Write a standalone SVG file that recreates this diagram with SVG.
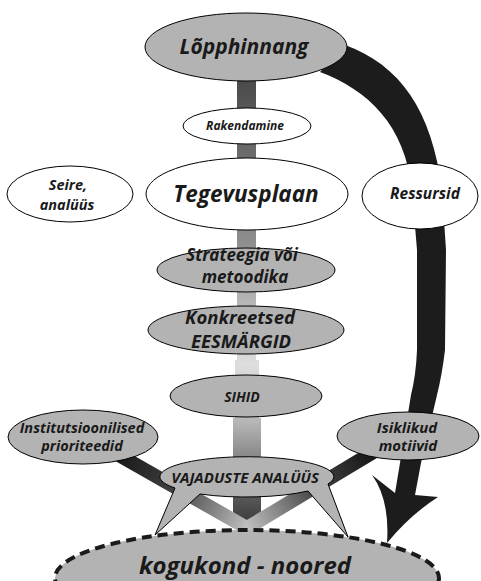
<svg xmlns="http://www.w3.org/2000/svg" width="481" height="581" viewBox="0 0 481 581">
<style>
.t{font-family:"Open Sans","Liberation Sans",sans-serif;font-weight:bold;font-style:italic;fill:#1a1a1a;text-anchor:middle}
.g{fill:#b3b3b3;stroke:#000;stroke-width:1}
.w{fill:#fff;stroke:#000;stroke-width:1}
</style>
<defs>
<linearGradient id="gC" x1="0" y1="80" x2="0" y2="530" gradientUnits="userSpaceOnUse">
<stop offset="0" stop-color="#4a4a4a"/>
<stop offset="0.156" stop-color="#6a6a6a"/>
<stop offset="0.356" stop-color="#8d8d8d"/>
<stop offset="0.489" stop-color="#b5b5b5"/>
<stop offset="0.633" stop-color="#dedede"/>
<stop offset="0.756" stop-color="#b8b8b8"/>
<stop offset="0.833" stop-color="#8a8a8a"/>
<stop offset="0.933" stop-color="#555"/>
<stop offset="1" stop-color="#333"/>
</linearGradient>
<linearGradient id="gL" x1="110" y1="450" x2="247" y2="528" gradientUnits="userSpaceOnUse">
<stop offset="0" stop-color="#111"/>
<stop offset="0.5" stop-color="#444"/>
<stop offset="1" stop-color="#c0c0c0"/>
</linearGradient>
<linearGradient id="gR" x1="380" y1="448" x2="247" y2="528" gradientUnits="userSpaceOnUse">
<stop offset="0" stop-color="#111"/>
<stop offset="0.5" stop-color="#444"/>
<stop offset="1" stop-color="#c0c0c0"/>
</linearGradient>
</defs>
<g id="connectors">
<path d="M237 80H256V360H259V418H261V512L247 529L233 512V418H235V360H237Z" fill="url(#gC)"/>
<line x1="110" y1="450" x2="247" y2="528" stroke="url(#gL)" stroke-width="14"/>
<line x1="380" y1="448" x2="247" y2="528" stroke="url(#gR)" stroke-width="14"/>
<path d="M345 45C400 65 432 110 442 190L446 250L445 350Q442 375 437 395L421 463L415 495L438 497Q410 515 387 543Q390 500 372 475L395 493L400 463L411 395Q416 375 417 350L417 250L412 190C405 125 368 90 320 72Z" fill="#1c1c1c"/>
</g>
<g id="lopphinnang">
<ellipse class="g" cx="246" cy="47" rx="101" ry="34"/>
<text class="t" x="244" y="54" font-size="21">Lõpphinnang</text>
</g>
<g id="rakendamine">
<ellipse class="w" cx="247" cy="126" rx="64" ry="18"/>
<text class="t" x="245" y="130" font-size="12">Rakendamine</text>
</g>
<g id="seire">
<ellipse class="w" cx="70" cy="194" rx="63" ry="28"/>
<text class="t" x="68" y="190" font-size="14.5">Seire,</text>
<text class="t" x="67" y="210" font-size="14.5">analüüs</text>
</g>
<g id="tegevusplaan">
<ellipse class="w" cx="247" cy="194" rx="101" ry="36"/>
<text class="t" x="246" y="202" font-size="22.5">Tegevusplaan</text>
</g>
<g id="ressursid">
<ellipse class="w" cx="420" cy="196" rx="58" ry="33"/>
<text class="t" x="425" y="199" font-size="15.5">Ressursid</text>
</g>
<g id="strateegia">
<ellipse class="g" cx="246" cy="270" rx="89" ry="22"/>
<text class="t" x="242" y="261" font-size="17">Strateegia või</text>
<text class="t" x="245" y="283" font-size="17">metoodika</text>
</g>
<g id="konkreetsed">
<ellipse class="g" cx="246" cy="330" rx="98" ry="24"/>
<text class="t" x="240" y="324" font-size="18.5">Konkreetsed</text>
<text class="t" x="241" y="348" font-size="18.5">EESMÄRGID</text>
</g>
<g id="sihid">
<ellipse class="g" cx="246" cy="396" rx="76" ry="21"/>
<text class="t" x="242" y="402" font-size="14">SIHID</text>
</g>
<g id="institutsioonilised">
<ellipse class="g" cx="83" cy="437" rx="75" ry="27"/>
<text class="t" x="82" y="433" font-size="14.5">Institutsioonilised</text>
<text class="t" x="82" y="451" font-size="14.5">prioriteedid</text>
</g>
<g id="isiklikud">
<ellipse class="g" cx="408" cy="436" rx="71" ry="24"/>
<text class="t" x="407" y="433" font-size="15">Isiklikud</text>
<text class="t" x="408" y="451" font-size="15">motiivid</text>
</g>
<g id="vajaduste">
<path class="g" d="M200 494A87 20 0 0 0 308 491L348 537L328 484A87 20 0 1 0 175 488L155 535Z"/>
<text class="t" x="245" y="483" font-size="15">VAJADUSTE ANALÜÜS</text>
</g>
<g id="kogukond">
<ellipse cx="247" cy="578" rx="192" ry="48" fill="#b3b3b3" stroke="#1a1a1a" stroke-width="4" stroke-dasharray="10 6"/>
<text class="t" x="245" y="574" font-size="24">kogukond - noored</text>
</g>
</svg>
